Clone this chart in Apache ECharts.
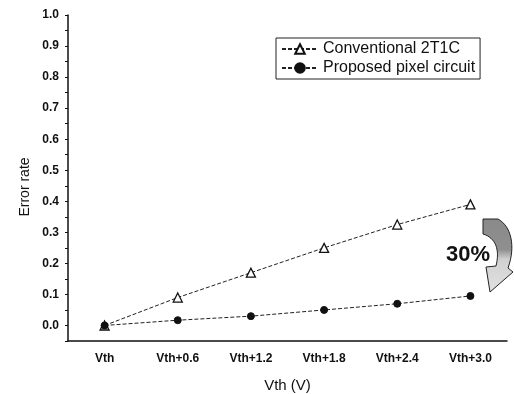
<!DOCTYPE html>
<html><head><meta charset="utf-8">
<script src="https://cdn.jsdelivr.net/npm/echarts@6/dist/echarts.min.js"></script>
<style>html,body{margin:0;padding:0;background:#fff}#c{width:514px;height:394px}</style>
</head><body><div id="c"></div>
<script>
var categories = ['Vth', 'Vth+0.6', 'Vth+1.2', 'Vth+1.8', 'Vth+2.4', 'Vth+3.0'];
var conventional = [0.0, 0.09, 0.17, 0.25, 0.325, 0.39];
var proposed = [0.0, 0.017, 0.03, 0.05, 0.07, 0.095];
var yTickLabels = ['0.0','0.1','0.2','0.3','0.4','0.5','0.6','0.7','0.8','0.9','1.0'];

var FONT = 'Liberation Sans, Arial, sans-serif';
var yCats = [];
for (var i = 0; i < 2 * yTickLabels.length; i++) yCats.push('c' + i);

function bez(p0, p1, p2, p3, n) {
  var out = [];
  for (var k = 0; k <= n; k++) {
    var t = k / n, u = 1 - t;
    out.push([u*u*u*p0[0] + 3*u*u*t*p1[0] + 3*u*t*t*p2[0] + t*t*t*p3[0],
              u*u*u*p0[1] + 3*u*u*t*p1[1] + 3*u*t*t*p2[1] + t*t*t*p3[1]]);
  }
  return out;
}
var arrowPts = [[483, 219]]
  .concat(bez([498, 219], [511, 226], [516, 246], [508, 268], 16))
  .concat([[513, 272], [490, 292], [486, 267]])
  .concat(bez([496, 266], [500, 250], [496, 238], [483, 234], 16));

var chart = echarts.init(document.getElementById('c'));
chart.setOption({
  animation: false,
  backgroundColor: '#fff',
  grid: {left: 68, right: 7, top: 15, bottom: 53, outerBoundsMode: 'none', containLabel: false},
  legend: {
    orient: 'vertical', left: 276, top: 38,
    padding: [3, 5, 3, 5], itemGap: 3, itemWidth: 36, itemHeight: 12,
    borderColor: '#222', borderWidth: 1,
    textStyle: {fontFamily: FONT, fontSize: 16, color: '#111'},
    data: ['Conventional 2T1C', 'Proposed pixel circuit']
  },
  xAxis: [{
    type: 'category', data: categories, position: 'bottom',
    name: 'Vth (V)', nameLocation: 'middle', nameGap: 37,
    nameTextStyle: {fontFamily: FONT, fontSize: 15, color: '#111'},
    axisLine: {onZero: false, lineStyle: {color: '#111', width: 1.5}},
    axisTick: {alignWithLabel: true, length: 5, lineStyle: {color: '#111', width: 1.2}},
    axisLabel: {fontFamily: FONT, fontSize: 12, fontWeight: 'bold', color: '#111', margin: 12}
  }, {
    type: 'category', data: categories, position: 'bottom',
    axisLine: {show: false, onZero: false},
    axisTick: {length: 3, lineStyle: {color: '#111', width: 1}},
    axisLabel: {show: false}
  }],
  yAxis: [{
    type: 'value', min: -0.05, max: 1.0, interval: 0.05, position: 'left',
    axisLine: {show: true, onZero: false, lineStyle: {color: '#111', width: 1.5}},
    axisTick: {show: true, length: 3, lineStyle: {color: '#111', width: 1}},
    axisLabel: {show: false},
    splitLine: {show: false}
  }, {
    type: 'category', data: yCats, boundaryGap: false, position: 'left',
    axisLine: {show: false, onZero: false},
    axisTick: {length: 5, interval: function (idx) { return idx % 2 === 1; }, lineStyle: {color: '#111', width: 1.2}},
    axisLabel: {
      interval: function (idx) { return idx % 2 === 1; },
      formatter: function (v, idx) { return idx % 2 === 1 ? yTickLabels[(idx - 1) / 2] : ''; },
      fontFamily: FONT, fontSize: 12, fontWeight: 'bold', color: '#111', margin: 9
    }
  }],
  series: [{
    name: 'Conventional 2T1C', type: 'line', data: conventional,
    xAxisIndex: 0, yAxisIndex: 0,
    symbol: 'triangle', symbolSize: 9,
    lineStyle: {color: '#222', width: 1, type: [4, 2]},
    itemStyle: {color: '#fff', borderColor: '#111', borderWidth: 1.3}
  }, {
    name: 'Proposed pixel circuit', type: 'line', data: proposed,
    xAxisIndex: 0, yAxisIndex: 0,
    symbol: 'circle', symbolSize: 7,
    lineStyle: {color: '#222', width: 1, type: [4, 2]},
    itemStyle: {color: '#111', borderColor: '#111', borderWidth: 1}
  }],
  graphic: [{
    type: 'text', x: 25, y: 187, rotation: Math.PI / 2,
    style: {text: 'Error rate', fontFamily: FONT, fontSize: 14, fill: '#111', align: 'center', verticalAlign: 'middle'}
  }, {
    type: 'polygon',
    shape: {points: arrowPts},
    style: {
      fill: {type: 'linear', x: 0, y: 0, x2: 0, y2: 1, colorStops: [{offset: 0, color: '#8a8a8a'}, {offset: 0.42, color: '#8f8f8f'}, {offset: 0.55, color: '#d0d0d0'}, {offset: 1, color: '#e2e2e2'}]},
      stroke: '#222', lineWidth: 1
    }
  }, {
    type: 'text', left: 446, top: 244,
    style: {text: '30%', fontFamily: FONT, fontSize: 22, fontWeight: 'bold', fill: '#111'}
  }]
});
</script></body></html>
